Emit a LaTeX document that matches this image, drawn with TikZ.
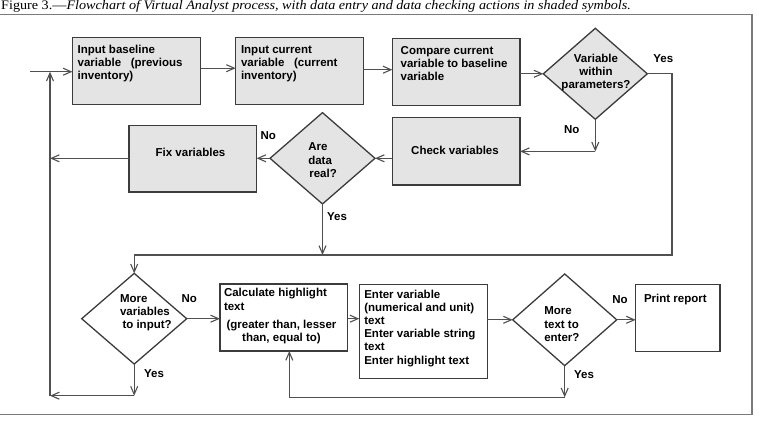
\documentclass[tikz,border=0pt]{standalone}
\usepackage{fontspec}
\setmainfont{Liberation Serif}
\newfontfamily\arialf{Liberation Sans}
\usetikzlibrary{shapes.geometric,arrows.meta}
\definecolor{shade}{HTML}{E4E4E4}
\definecolor{edgec}{HTML}{3C3C3C}
\definecolor{linec}{HTML}{505050}
\definecolor{framec}{HTML}{7A7A7A}
\tikzset{
  pbox/.style={rectangle, draw=edgec, line width=1.3pt, inner sep=0pt, outer sep=0pt},
  shadedbox/.style={pbox, fill=shade},
  plainbox/.style={pbox, fill=white},
  decision/.style={diamond, draw=edgec, line width=1.3pt, inner sep=0pt, outer sep=0pt},
  txt/.style={inner sep=0pt, outer sep=0pt, font=\arialf\bfseries\fontsize{11.5}{13.3}\selectfont},
  ltxt/.style={txt, align=left, anchor=base west},
  ctxt/.style={txt, align=center},
  conn/.style={draw=linec, line width=1.1pt, -{Straight Barb[length=8pt,width=7pt]}},
  plain/.style={draw=linec, line width=1.1pt}
}
\begin{document}
\begin{tikzpicture}[x=1pt,y=-1pt]
\useasboundingbox (0,0) rectangle (759,421);
% frame and caption
\draw[framec, line width=1.5pt] (-3,14.5) rectangle (752,414.5);
\node[anchor=base west, inner sep=0pt] (cap) at (1,9.2) {\scalebox{1.09}[1]{\fontsize{13}{13}\selectfont Figure 3.—\textit{Flowchart of Virtual Analyst process, with data entry and data checking actions in shaded symbols.}}};

% shapes
\node[shadedbox, minimum width=128pt, minimum height=67pt] (b1) at (136.5,71.2) {};
\node[shadedbox, minimum width=127.6pt, minimum height=67pt] (b2) at (299.5,71.2) {};
\node[shadedbox, minimum width=127.7pt, minimum height=67.4pt] (b3) at (456.2,72) {};
\node[decision, fill=shade, minimum width=104pt, minimum height=91pt] (d1) at (595.3,73.8) {};
\node[shadedbox, minimum width=127.7pt, minimum height=67.3pt] (b4) at (456.2,151.4) {};
\node[decision, fill=shade, minimum width=105pt, minimum height=91.3pt] (d2) at (322.5,158.3) {};
\node[shadedbox, minimum width=127.7pt, minimum height=66.7pt] (b5) at (192.8,158.7) {};
\node[decision, fill=white, minimum width=105pt, minimum height=90.7pt] (d3) at (134.2,318.7) {};
\node[plainbox, minimum width=127.7pt, minimum height=67pt] (b6) at (283.8,317.5) {};
\node[plainbox, minimum width=128pt, minimum height=94pt] (b7) at (423.3,331.3) {};
\node[decision, fill=white, minimum width=104pt, minimum height=91.7pt] (d4) at (564.7,319.8) {};
\node[plainbox, minimum width=84.3pt, minimum height=67pt] (b8) at (677.8,317.8) {};

% texts (base anchor = baseline of the last line)
\node[ltxt] (t1) at (77.7,79.9) {Input baseline\\variable~~~(previous\\inventory)};
\node[ltxt] (t2) at (241,79.9) {Input current\\variable~~~(current\\inventory)};
\node[ltxt] (t3) at (400.7,80.9) {Compare current\\variable to baseline\\variable};
\node[ctxt] (t4) at (455,150.7) {Check variables};
\node[ctxt] (t5) at (190.5,152.7) {Fix variables};
\node[txt, align=center, anchor=base] (td1) at (596,88.9) {Variable\\within\\parameters?};
\node[ltxt] (td2) at (308.3,177.3) {Are\\data\\\hspace*{1pt}real?};
\node[ltxt] (td3) at (120,328.9) {More\\variables\\\hspace*{2.5pt}to input?};
\node[ltxt] (td4) at (544.3,341.3) {More\\text to\\enter?};
\node[ltxt] (t6a) at (224,310) {Calculate highlight\\text};
\node[txt, align=center, anchor=base] (t6b) at (281.5,341.6) {(greater than, lesser\\than, equal to)};
\node[ltxt, font=\arialf\bfseries\fontsize{11.5}{13.2}\selectfont] (t7) at (364.3,364) {Enter variable\\(numerical and unit)\\text\\Enter variable string\\text\\Enter highlight text};
\node[ltxt] (t8) at (644,302.3) {Print report};

% labels
\node[ctxt] (l1) at (663.3,58.3) {Yes};
\node[ctxt] (l2) at (571.7,130) {No};
\node[ctxt] (l3) at (268.3,136) {No};
\node[ctxt] (l4) at (337,216.7) {Yes};
\node[ctxt] (l5) at (189.3,298.7) {No};
\node[ctxt] (l6) at (154,374) {Yes};
\node[ctxt] (l7) at (620,300) {No};
\node[ctxt] (l8) at (584,375) {Yes};

% coordinates
\coordinate (in) at (30,71.7);
\coordinate (lt) at (50,71.7);
\coordinate (lb) at (50,395.7);
\coordinate (c1) at (672,255);
\coordinate (c3) at (134.2,395.7);
\coordinate (c4) at (564.7,397.3);
\coordinate (c5) at (289.3,397.3);

% connectors
\path[conn] (in) -- (b1.west |- in);
\path[conn] ([yshift=3pt]b1.east) -- ([yshift=3pt]b1.east -| b2.west);
\path[conn] ([yshift=1.5pt]b2.east) -- ([yshift=1.5pt]b2.east -| b3.west);
\path[conn] (d1.west -| b3.east) -- (d1.west);
\path[conn] (d1.east) -| (c1) -| (d3.north);
\path[conn] (d1.south) -- (d1.south |- b4.east);
\path[conn] (d1.south |- b4.east) -- (b4.east);
\path[conn] (d2.east -| b4.west) -- (d2.east);
\path[conn] (d2.west) -- (d2.west -| b5.east);
\path[conn] (d2.south) -- (d2.south |- c1);
\path[conn] (b5.west |- d2.west) -- (lt |- d2.west);
\path[conn] (lb) -- (lt);
\path[conn] (d3.east) -- (d3.east -| b6.west);
\path[conn] (d3.south) -- (c3);
\path[conn] (c3) -- (lb);
\path[conn] (b6.east |- d3.east) -- (b7.west |- d3.east);
\path[conn] (d4.west -| b7.east) -- (d4.west);
\path[conn] (d4.east) -- (d4.east -| b8.west);
\path[conn] (d4.south) -- (c4);
\path[conn] (c4) -- (c5) -- (c5 |- b6.south);
\end{tikzpicture}
\end{document}
